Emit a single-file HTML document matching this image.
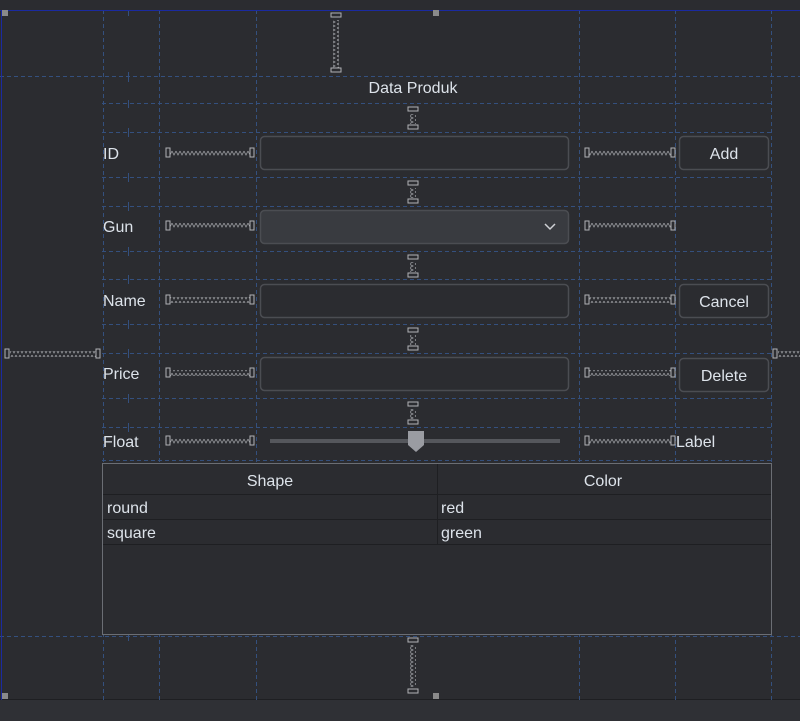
<!DOCTYPE html><html><head><style>
body{margin:0;width:800px;height:721px;background:#2b2c30;overflow:hidden;font-family:"Liberation Sans",sans-serif}
svg{position:absolute;left:0;top:0}
text{font-family:"Liberation Sans",sans-serif;font-size:16px;fill:#dde3ea}
</style></head><body>
<svg width="800" height="721" xmlns="http://www.w3.org/2000/svg">
<defs>
<pattern id="zz" width="4" height="6" patternUnits="userSpaceOnUse"><path d="M0 1 L2 5 L4 1" stroke="#9a9ca0" stroke-width="0.8" fill="none"/></pattern>
<pattern id="zv" width="6" height="4" patternUnits="userSpaceOnUse"><path d="M1 0 L5 2 L1 4" stroke="#9a9ca0" stroke-width="0.8" fill="none"/></pattern>
</defs>
<rect x="0" y="700" width="800" height="21" fill="#2f3035"/>
<line x1="0" y1="699.5" x2="800" y2="699.5" stroke="#1e1f22"/>
<g stroke="#34507e" stroke-dasharray="4,3" stroke-width="1">
<line x1="0" y1="76.5" x2="800" y2="76.5"/>
<line x1="102" y1="103.5" x2="772" y2="103.5"/><line x1="102" y1="132.5" x2="772" y2="132.5"/>
<line x1="102" y1="177.5" x2="772" y2="177.5"/><line x1="102" y1="206.5" x2="772" y2="206.5"/>
<line x1="102" y1="251.5" x2="772" y2="251.5"/><line x1="102" y1="279.5" x2="772" y2="279.5"/>
<line x1="102" y1="324.5" x2="772" y2="324.5"/><line x1="102" y1="353.5" x2="772" y2="353.5"/>
<line x1="102" y1="398.5" x2="772" y2="398.5"/><line x1="102" y1="427.5" x2="772" y2="427.5"/>
<line x1="102" y1="460.5" x2="772" y2="460.5"/>
<line x1="0" y1="636.5" x2="800" y2="636.5"/>
<line x1="103.5" y1="10" x2="103.5" y2="700"/>
<line x1="159.5" y1="10" x2="159.5" y2="700"/><line x1="256.5" y1="10" x2="256.5" y2="700"/>
<line x1="579.5" y1="10" x2="579.5" y2="700"/><line x1="675.5" y1="10" x2="675.5" y2="700"/>
<line x1="771.5" y1="10" x2="771.5" y2="700"/>
</g>
<g stroke="#34507e" stroke-width="1">
<line x1="128.5" y1="10" x2="128.5" y2="16"/><line x1="128.5" y1="72" x2="128.5" y2="82"/>
<line x1="128.5" y1="100" x2="128.5" y2="108"/><line x1="128.5" y1="128" x2="128.5" y2="137"/>
<line x1="128.5" y1="173" x2="128.5" y2="182"/><line x1="128.5" y1="202" x2="128.5" y2="211"/>
<line x1="128.5" y1="247" x2="128.5" y2="256"/><line x1="128.5" y1="275" x2="128.5" y2="284"/>
<line x1="128.5" y1="320" x2="128.5" y2="329"/><line x1="128.5" y1="349" x2="128.5" y2="358"/>
<line x1="128.5" y1="394" x2="128.5" y2="403"/><line x1="128.5" y1="423" x2="128.5" y2="432"/>
<line x1="128.5" y1="632" x2="128.5" y2="641"/>
</g>
<rect x="8" y="11" width="90" height="65" fill="#2b2c30"/>
<line x1="0" y1="10.5" x2="800" y2="10.5" stroke="#1a2aa0"/>
<line x1="1.5" y1="10" x2="1.5" y2="700" stroke="#1a2aa0"/>
<rect x="2" y="10" width="6" height="6" fill="#8a8a8a"/><rect x="433" y="10" width="6" height="6" fill="#8a8a8a"/>
<rect x="2" y="693" width="6" height="6" fill="#8a8a8a"/><rect x="433" y="693" width="6" height="6" fill="#8a8a8a"/>
<text x="413" y="93" text-anchor="middle">Data Produk</text>
<text x="103" y="159">ID</text><text x="103" y="232">Gun</text><text x="103" y="306">Name</text>
<text x="103" y="379">Price</text><text x="103" y="447">Float</text><text x="676" y="447">Label</text>
<g fill="#2b2c30" stroke="#4b4d52" stroke-width="1.5">
<rect x="260.5" y="136.5" width="308" height="33" rx="4"/>
<rect x="260.5" y="210.5" width="308" height="33" rx="4" fill="#393b40"/>
<rect x="260.5" y="284.5" width="308" height="33" rx="4"/>
<rect x="260.5" y="357.5" width="308" height="33" rx="4"/>
<rect x="679.5" y="136.5" width="89" height="33" rx="4"/>
<rect x="679.5" y="284.5" width="89" height="33" rx="4"/>
<rect x="679.5" y="358.5" width="89" height="33" rx="4"/>
</g>
<path d="M545 224 L550 229 L555 224" stroke="#cfd1d5" fill="none" stroke-width="1.5"/>
<text x="724" y="159" text-anchor="middle">Add</text>
<text x="724" y="307" text-anchor="middle">Cancel</text>
<text x="724" y="381" text-anchor="middle">Delete</text>
<rect x="270" y="439" width="290" height="4" fill="#55575c"/>
<path d="M408 431 H424 V445 L416 452 L408 445 Z" fill="#9a9ca2"/>
<rect x="102.5" y="463.5" width="669" height="171" fill="#2b2c30" stroke="#6b6e74"/>
<g stroke="#1e1f22"><line x1="103" y1="494.5" x2="771" y2="494.5"/><line x1="103" y1="519.5" x2="771" y2="519.5"/><line x1="103" y1="544.5" x2="771" y2="544.5"/><line x1="437.5" y1="464" x2="437.5" y2="545"/></g>
<text x="270" y="486" text-anchor="middle">Shape</text><text x="603" y="486" text-anchor="middle">Color</text>
<text x="107" y="513">round</text><text x="441" y="513">red</text>
<text x="107" y="538">square</text><text x="441" y="538">green</text>
<g fill="url(#zz)">
<rect x="170" y="150" width="80" height="6"/><rect x="589" y="150" width="82" height="6"/>
<rect x="170" y="223" width="80" height="6"/><rect x="589" y="223" width="82" height="6"/>
<rect x="170" y="297" width="80" height="6"/><rect x="589" y="297" width="82" height="6"/>
<rect x="170" y="370" width="80" height="6"/><rect x="589" y="370" width="82" height="6"/>
<rect x="170" y="438" width="80" height="6"/><rect x="589" y="438" width="82" height="6"/>
<rect x="10" y="351" width="86" height="6"/><rect x="778" y="351" width="22" height="6"/>
</g>
<g fill="url(#zv)">
<rect x="333" y="20" width="6" height="48"/>
<rect x="410" y="114" width="6" height="10"/><rect x="410" y="188" width="6" height="10"/>
<rect x="410" y="262" width="6" height="10"/><rect x="410" y="335" width="6" height="10"/>
<rect x="410" y="409" width="6" height="10"/><rect x="410" y="645" width="6" height="42"/>
</g>
<g fill="none" stroke="#b0b2b6" stroke-width="1">
<path d="M166 148h4v9h-4zM250 148h4v9h-4zM585 148h4v9h-4zM671 148h4v9h-4z"/>
<path d="M166 221h4v9h-4zM250 221h4v9h-4zM585 221h4v9h-4zM671 221h4v9h-4z"/>
<path d="M166 295h4v9h-4zM250 295h4v9h-4zM585 295h4v9h-4zM671 295h4v9h-4z"/>
<path d="M166 368h4v9h-4zM250 368h4v9h-4zM585 368h4v9h-4zM671 368h4v9h-4z"/>
<path d="M166 436h4v9h-4zM250 436h4v9h-4zM585 436h4v9h-4zM671 436h4v9h-4z"/>
<path d="M5 349h4v9h-4zM96 349h4v9h-4zM773 349h4v9h-4z"/>
<path d="M331 13h10v4h-10zM331 68h10v4h-10z"/>
<path d="M408 107h10v4h-10zM408 125h10v4h-10zM408 181h10v4h-10zM408 199h10v4h-10z"/>
<path d="M408 255h10v4h-10zM408 273h10v4h-10zM408 328h10v4h-10zM408 346h10v4h-10z"/>
<path d="M408 402h10v4h-10zM408 420h10v4h-10zM408 638h10v4h-10zM408 689h10v4h-10z"/>
</g>
</svg>
</body></html>
